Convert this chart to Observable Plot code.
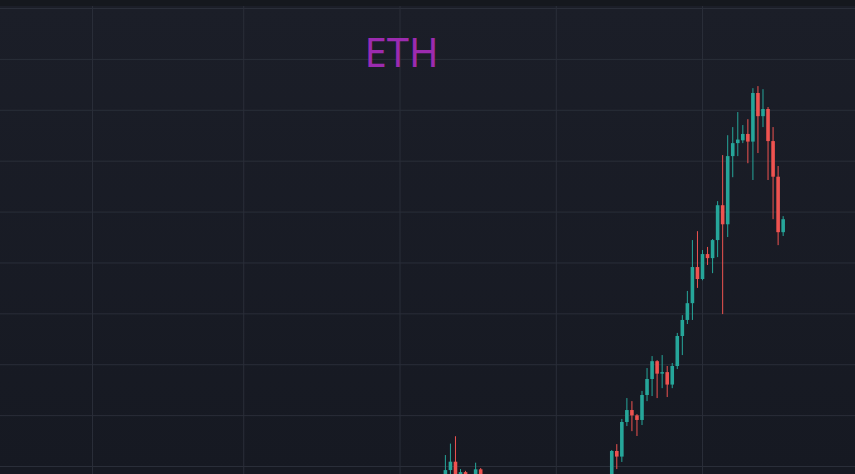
<!DOCTYPE html>
<html>
<head>
<meta charset="utf-8">
<script src="https://cdn.jsdelivr.net/npm/d3@7"></script>
<script src="https://cdn.jsdelivr.net/npm/@observablehq/plot@0.6"></script>
<style>
  html, body { margin: 0; padding: 0; background: #181b25; width: 855px; height: 474px; overflow: hidden; }
  #topbar { height: 6px; background: #15181e; }
  #wrap { position: relative; width: 855px; height: 468px; }
  #title { position: absolute; left: 0; width: 803px; top: 25.5px; text-align: center;
           font-family: "Noto Sans", sans-serif; font-size: 40px; line-height: 40px; color: #9c2bb0; pointer-events: none; }
  svg { display: block; }
</style>
</head>
<body>
<div id="topbar"></div>
<div id="wrap"><div id="chart"></div><div id="title">ETH</div></div>
<script>
const symbol = "ETH";
const dates = [
  "2024-01-10","2024-01-11","2024-01-12","2024-01-13","2024-01-14","2024-01-16","2024-01-17",
  "2024-02-12","2024-02-13","2024-02-14","2024-02-15","2024-02-16","2024-02-17","2024-02-18",
  "2024-02-19","2024-02-20","2024-02-21","2024-02-22","2024-02-23","2024-02-24","2024-02-25",
  "2024-02-26","2024-02-27","2024-02-28","2024-02-29","2024-03-01","2024-03-02","2024-03-03",
  "2024-03-04","2024-03-05","2024-03-06","2024-03-07","2024-03-08","2024-03-09","2024-03-10",
  "2024-03-11","2024-03-12","2024-03-13","2024-03-14","2024-03-15","2024-03-16","2024-03-17"
];
const open  = [2344,2584,2617,2524,2576,2511,2587,
  2507,2659,2637,2773,2820,2799,2781,2879,2942,3012,2963,2969,2920,2993,
  3111,3174,3240,3382,3335,3433,3417,3488,3625,3550,3818,3869,3880,3905,
  3875,4066,3975,4003,3877,3737,3519];
const high  = [2643,2688,2717,2588,2581,2613,2592,
  2663,2686,2785,2867,2855,2804,2895,2985,3032,3016,3036,2993,3005,3123,
  3193,3288,3488,3523,3449,3461,3492,3641,3822,3900,3932,3991,3940,3963,
  4085,4093,4081,4011,3932,3779,3582];
const low   = [2330,2550,2510,2510,2470,2500,2512,
  2472,2588,2616,2757,2737,2718,2761,2855,2875,2867,2906,2871,2906,2981,
  3036,3158,3174,3300,3330,3390,3358,3421,3197,3500,3735,3818,3869,3790,
  3724,3830,3932,3724,3570,3468,3504];
const close = [2584,2617,2524,2576,2472,2587,2528,
  2659,2637,2773,2820,2799,2781,2879,2942,3012,2963,2969,2920,2993,3111,
  3174,3240,3382,3335,3433,3417,3488,3625,3550,3818,3869,3883,3905,3875,
  4066,3975,4003,3877,3737,3519,3570];
const monthTicks = ["2023-11-01","2023-12-01","2024-01-01","2024-02-01","2024-03-01"];
const priceTicks = [2600,2800,3000,3200,3400,3600,3800,4000,4200,4400];

const candles = dates.map((d, i) => ({
  date: new Date(d + "T00:00:00Z"), open: open[i], high: high[i], low: low[i], close: close[i]
}));
const months = monthTicks.map(d => new Date(d + "T00:00:00Z"));

const DAY = 864e5;
const nov1 = Date.UTC(2023, 10, 1);
const xDomain = [new Date(nov1 - 18.249 * DAY), new Date(nov1 + 151.35 * DAY)];
const UP = "#26a69a", DOWN = "#ef5350", GRID = "#2a2e39";
const col = d => d.close >= d.open ? UP : DOWN;

const chart = Plot.plot({
  width: 855,
  height: 468,
  margin: 0,
  style: { background: "linear-gradient(#1b1e28, #161922)", overflow: "hidden" },
  x: { type: "utc", domain: xDomain, axis: null },
  y: { domain: [2568.6, 4407.9], axis: null },
  marks: [
    Plot.ruleY(priceTicks, { stroke: GRID, strokeWidth: 1, strokeOpacity: 1 }),
    Plot.ruleX(months, { stroke: GRID, strokeWidth: 1, strokeOpacity: 1 }),
    Plot.ruleX(candles, { x: "date", y1: "low", y2: "high", stroke: col, strokeWidth: 1 }),
    Plot.ruleX(candles, { x: "date", y1: "open", y2: "close", stroke: col, strokeWidth: 3.6 })
  ]
});
document.getElementById("chart").appendChild(chart);
</script>
</body>
</html>
